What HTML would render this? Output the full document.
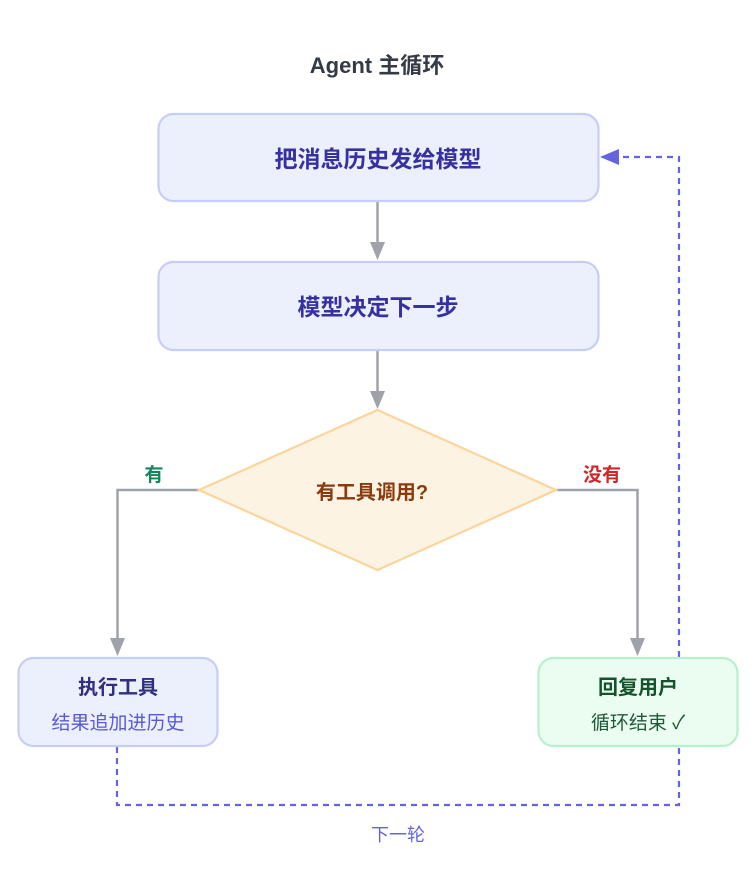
<!DOCTYPE html>
<html><head><meta charset="utf-8"><style>
html,body{margin:0;padding:0;background:#fff;}
svg{display:block;}
text{font-family:"Liberation Sans","Noto Sans CJK SC",sans-serif;}
</style></head><body>
<svg width="754" height="892" viewBox="0 0 754 892" xmlns="http://www.w3.org/2000/svg">
<rect width="754" height="892" fill="#fff"/>
<text x="377" y="73" text-anchor="middle" font-size="22" font-weight="bold" fill="#343a46">Agent 主循环</text>

<!-- dashed loop -->
<path d="M117 747 V805 H679 V747" fill="none" stroke="#6563e0" stroke-width="2.2" stroke-dasharray="6,5"/>
<path d="M679 657 V157 H616" fill="none" stroke="#6563e0" stroke-width="2.2" stroke-dasharray="6,5"/>
<polygon points="600,157 619,149 619,165" fill="#6563e0"/>
<text x="398" y="841" text-anchor="middle" font-size="18" fill="#6563e0">下一轮</text>

<!-- solid arrows -->
<g stroke="#a0a2ab" stroke-width="2.5" fill="none">
<line x1="377.5" y1="201" x2="377.5" y2="244"/>
<line x1="377.5" y1="350" x2="377.5" y2="393"/>
<path d="M199 490 H117.5 V640"/>
<path d="M556 490 H637.5 V640"/>
</g>
<g fill="#a0a2ab">
<polygon points="370,242 385,242 377.5,260"/>
<polygon points="370,391 385,391 377.5,409"/>
<polygon points="110,638 125,638 117.5,656"/>
<polygon points="630,638 645,638 637.5,656"/>
</g>

<!-- boxes -->
<rect x="158.5" y="114" width="440" height="87" rx="15" fill="#ecf0fd" stroke="#c6cdf7" stroke-width="2.2"/>
<text x="378" y="167" text-anchor="middle" font-size="23" font-weight="bold" fill="#3730a3">把消息历史发给模型</text>
<rect x="158.5" y="262" width="440" height="88" rx="15" fill="#ecf0fd" stroke="#c6cdf7" stroke-width="2.2"/>
<text x="378" y="315" text-anchor="middle" font-size="23" font-weight="bold" fill="#3730a3">模型决定下一步</text>

<polygon points="377.5,410 556,490 377.5,570 199,490" fill="#fdf3e3" stroke="#fbd59c" stroke-width="2.2"/>
<text x="372" y="499" text-anchor="middle" font-size="20" font-weight="bold" fill="#8a3a0c">有工具调用?</text>
<text x="154" y="481" text-anchor="middle" font-size="19" font-weight="bold" fill="#13875a">有</text>
<text x="602" y="481" text-anchor="middle" font-size="19" font-weight="bold" fill="#d0262b">没有</text>

<rect x="18.5" y="658" width="199" height="88" rx="15" fill="#ecf0fd" stroke="#c6cdf7" stroke-width="2.2"/>
<text x="118" y="694" text-anchor="middle" font-size="20" font-weight="bold" fill="#312e81">执行工具</text>
<text x="118" y="729" text-anchor="middle" font-size="19" fill="#5b58d6">结果追加进历史</text>

<rect x="538.5" y="658" width="199" height="88" rx="15" fill="#ebfcf1" stroke="#b8f0cc" stroke-width="2.2"/>
<text x="638" y="694" text-anchor="middle" font-size="20" font-weight="bold" fill="#14532d">回复用户</text>
<text x="638" y="729" text-anchor="middle" font-size="19" fill="#1d5a35">循环结束 ✓</text>
</svg>
</body></html>
